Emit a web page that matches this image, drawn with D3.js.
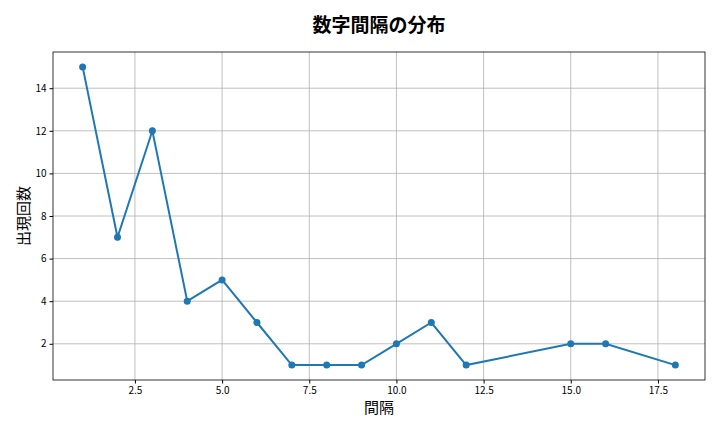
<!DOCTYPE html>
<html><head><meta charset="utf-8">
<script src="https://cdn.jsdelivr.net/npm/d3@7"></script>
<style>body{margin:0;background:#fff}svg{font-family:"Noto Sans CJK JP",sans-serif}</style>
</head><body><svg width="720" height="432"></svg>
<script>
const gaps = [1,2,3,4,5,6,7,8,9,10,11,12,15,16,18];
const counts = [15,7,12,4,5,3,1,1,1,2,3,1,2,2,1];
const xTicks = [2.5,5.0,7.5,10.0,12.5,15.0,17.5];
const yTicks = [2,4,6,8,10,12,14];
const title = "数字間隔の分布", xLabel = "間隔", yLabel = "出現回数";

const svg = d3.select("svg");
const L=53,R=705,T=52,B=380;
const x = d3.scaleLinear().domain([0.15,18.85]).range([L,R]);
const y = d3.scaleLinear().domain([0.3,15.7]).range([B,T]);
const g = svg.append("g");
g.selectAll(".gx").data(xTicks).join("line").attr("x1",d=>x(d)).attr("x2",d=>x(d)).attr("y1",T).attr("y2",B).attr("stroke","#b0b0b0").attr("stroke-width",0.8);
g.selectAll(".gy").data(yTicks).join("line").attr("y1",d=>y(d)).attr("y2",d=>y(d)).attr("x1",L).attr("x2",R).attr("stroke","#b0b0b0").attr("stroke-width",0.8);
const xa = svg.append("g").attr("transform",`translate(0,${B})`).call(d3.axisBottom(x).tickValues(xTicks).tickFormat(d3.format(".1f")).tickSizeOuter(0).tickSize(3.5));
const ya = svg.append("g").attr("transform",`translate(${L},0)`).call(d3.axisLeft(y).tickValues(yTicks).tickSizeOuter(0).tickSize(3.5));
[xa,ya].forEach(a=>{a.select(".domain").remove();a.selectAll("text").attr("font-size",10).attr("fill","#000").attr("font-family","Noto Sans CJK JP");a.selectAll("line").attr("stroke","#000");});
svg.append("rect").attr("x",L).attr("y",T).attr("width",R-L).attr("height",B-T).attr("fill","none").attr("stroke","#000").attr("stroke-width",0.8);
const pts = gaps.map((d,i)=>[d,counts[i]]);
svg.append("path").datum(pts).attr("d",d3.line().x(d=>x(d[0])).y(d=>y(d[1]))).attr("fill","none").attr("stroke","#1f77b4").attr("stroke-width",2);
svg.selectAll(".pt").data(pts).join("circle").attr("cx",d=>x(d[0])).attr("cy",d=>y(d[1])).attr("r",3.5).attr("fill","#1f77b4");
svg.append("text").attr("x",379).attr("y",32).attr("text-anchor","middle").attr("font-size",19).attr("font-weight","bold").text(title);
svg.append("text").attr("x",379).attr("y",413).attr("text-anchor","middle").attr("font-size",15).text(xLabel);
svg.append("text").attr("transform","translate(29,216) rotate(-90)").attr("text-anchor","middle").attr("font-size",15).text(yLabel);
</script></body></html>
